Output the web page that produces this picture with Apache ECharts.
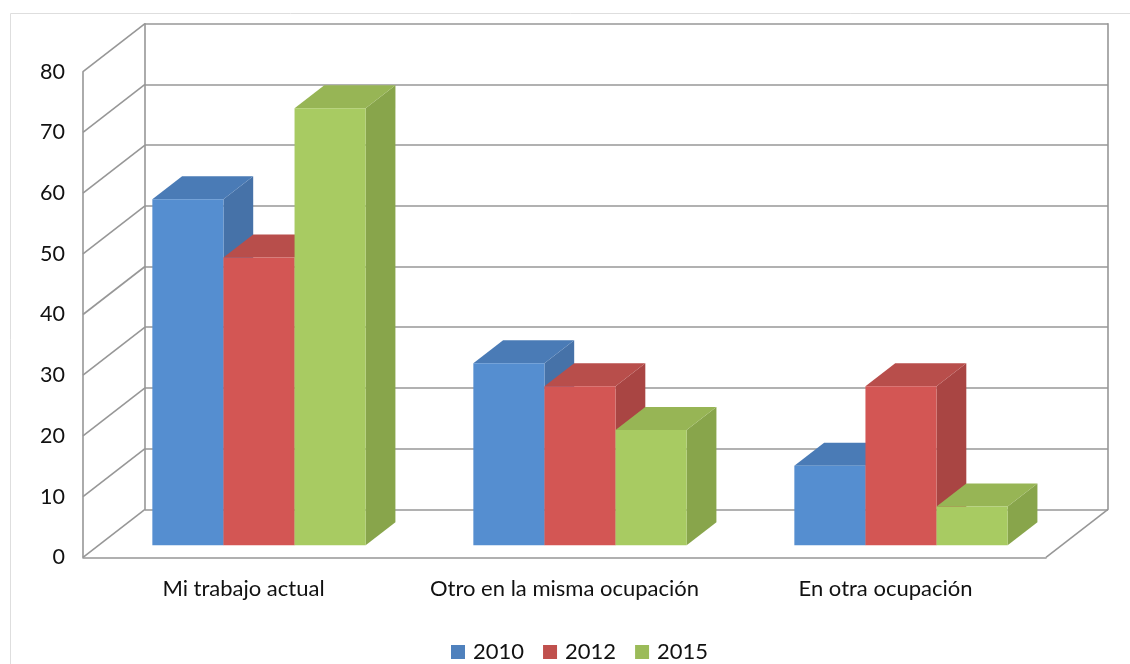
<!DOCTYPE html>
<html><head><meta charset="utf-8">
<script src="https://cdn.jsdelivr.net/npm/echarts@6/dist/echarts.min.js"></script>
<style>html,body{margin:0;padding:0;background:#fff}#c{width:1130px;height:664px}</style>
</head><body><div id="c"></div>
<script>
const categories = ['Mi trabajo actual', 'Otro en la misma ocupación', 'En otra ocupación'];
const years = ['2010', '2012', '2015'];
const v2010 = [57.0, 30.0, 13.1];
const v2012 = [47.4, 26.2, 26.2];
const v2015 = [72.0, 19.0, 6.4];
const yTicks = [0, 10, 20, 30, 40, 50, 60, 70, 80];

const WALL_DX = 62, WALL_DY = -48;
const BAR_FRONT = 0.25, BAR_DEPTH = 0.48, BAR_W = 0.2215;
const GRID_COL = '#979797';
const FONT = 'Lato';
const palette = [
  {front: '#558ED0', top: '#4A7BB6', side: '#4672A8', legend: '#4F81BD'},
  {front: '#D35654', top: '#B84E4B', side: '#A94543', legend: '#C0504D'},
  {front: '#A8CB62', top: '#97B555', side: '#88A54B', legend: '#9BBB59'}
];

function barRenderer(si) {
  const col = palette[si];
  return function (params, api) {
    const c = api.value(0), v = api.value(1);
    const catW = api.size([1, 0])[0];
    const base = api.coord([c, 0]);
    const top = api.coord([c, v]);
    const bw = catW * BAR_W;
    const ox = WALL_DX * BAR_FRONT, oy = WALL_DY * BAR_FRONT;
    const dx = WALL_DX * BAR_DEPTH, dy = WALL_DY * BAR_DEPTH;
    const x0 = base[0] - 1.5 * bw + si * bw + ox;
    const x1 = x0 + bw;
    const yb = base[1] + oy, yt = top[1] + oy;
    return {type: 'group', children: [
      {type: 'polygon', shape: {points: [[x1, yb], [x1 + dx, yb + dy], [x1 + dx, yt + dy], [x1, yt]]}, style: {fill: col.side}},
      {type: 'polygon', shape: {points: [[x0, yt], [x1, yt], [x1 + dx, yt + dy], [x0 + dx, yt + dy]]}, style: {fill: col.top}},
      {type: 'rect', shape: {x: x0, y: yt, width: bw, height: yb - yt}, style: {fill: col.front}}
    ]};
  };
}

function wallRenderer(params, api) {
  const v = api.value(1);
  const y = api.coord([0, v])[1];
  const cs = params.coordSys;
  const children = [{type: 'line', shape: {x1: cs.x, y1: y, x2: cs.x + WALL_DX, y2: y + WALL_DY},
    style: {stroke: GRID_COL, lineWidth: 1.6}}];
  if (v === 0) {
    children.push({type: 'line', shape: {x1: cs.x + cs.width, y1: y, x2: cs.x + cs.width + WALL_DX, y2: y + WALL_DY},
      style: {stroke: GRID_COL, lineWidth: 1.6}});
  }
  return {type: 'group', children: children};
}

const seriesVals = [v2010, v2012, v2015];
const chart = echarts.init(document.getElementById('c'), null, {renderer: 'canvas'});
chart.setOption({
  animation: false,
  backgroundColor: '#fff',
  textStyle: {fontFamily: FONT},
  graphic: [{type: 'rect', left: 8, top: 11, shape: {width: 1200, height: 700},
    style: {fill: 'none', stroke: '#dedede', lineWidth: 1}, z: -10, silent: true}],
  grid: [
    {left: 83, right: 84, top: 71.7, bottom: 106.7},
    {left: 145, right: 22, top: 23.7, bottom: 154.7}
  ],
  legend: {
    data: years, left: 446, top: 636, icon: 'rect', itemWidth: 14, itemHeight: 14, itemGap: 19,
    textStyle: {fontFamily: FONT, fontSize: 22, color: '#111', padding: [0, 0, 0, 3]}
  },
  xAxis: [
    {type: 'category', gridIndex: 0, data: categories, boundaryGap: true,
      axisLine: {show: true, lineStyle: {color: GRID_COL, width: 1.6}}, axisTick: {show: false},
      axisLabel: {fontFamily: FONT, fontSize: 22, color: '#111', margin: 21, interval: 0}, splitLine: {show: false}},
    {type: 'category', gridIndex: 1, data: categories, show: false}
  ],
  yAxis: [
    {type: 'value', gridIndex: 0, min: 0, max: 80, interval: 10,
      axisLine: {show: true, lineStyle: {color: GRID_COL, width: 1.6}}, axisTick: {show: false},
      axisLabel: {fontFamily: FONT, fontSize: 21.5, color: '#111', margin: 18,
        formatter: function (val) { return yTicks.indexOf(val) >= 0 ? String(val) : ''; }},
      splitLine: {show: false}},
    {type: 'value', gridIndex: 1, min: 0, max: 80, interval: 10,
      axisLine: {show: true, lineStyle: {color: GRID_COL, width: 1.6}}, axisTick: {show: false},
      axisLabel: {show: false}, splitLine: {show: true, lineStyle: {color: GRID_COL, width: 1.6}}},
    {type: 'value', gridIndex: 1, min: 0, max: 80, interval: 10, position: 'right',
      axisLine: {show: true, lineStyle: {color: GRID_COL, width: 1.6}}, axisTick: {show: false},
      axisLabel: {show: false}, splitLine: {show: false}}
  ],
  series: [
    {type: 'custom', name: 'walls', xAxisIndex: 0, yAxisIndex: 0, z: 1, silent: true,
      data: yTicks.map(function (t) { return [0, t]; }), renderItem: wallRenderer}
  ].concat(years.map(function (y, si) {
    return {type: 'custom', name: y, xAxisIndex: 0, yAxisIndex: 0, z: 2 + si,
      itemStyle: {color: palette[si].legend},
      data: seriesVals[si].map(function (v, i) { return [i, v]; }),
      renderItem: barRenderer(si)};
  }))
});
</script>
</body></html>
